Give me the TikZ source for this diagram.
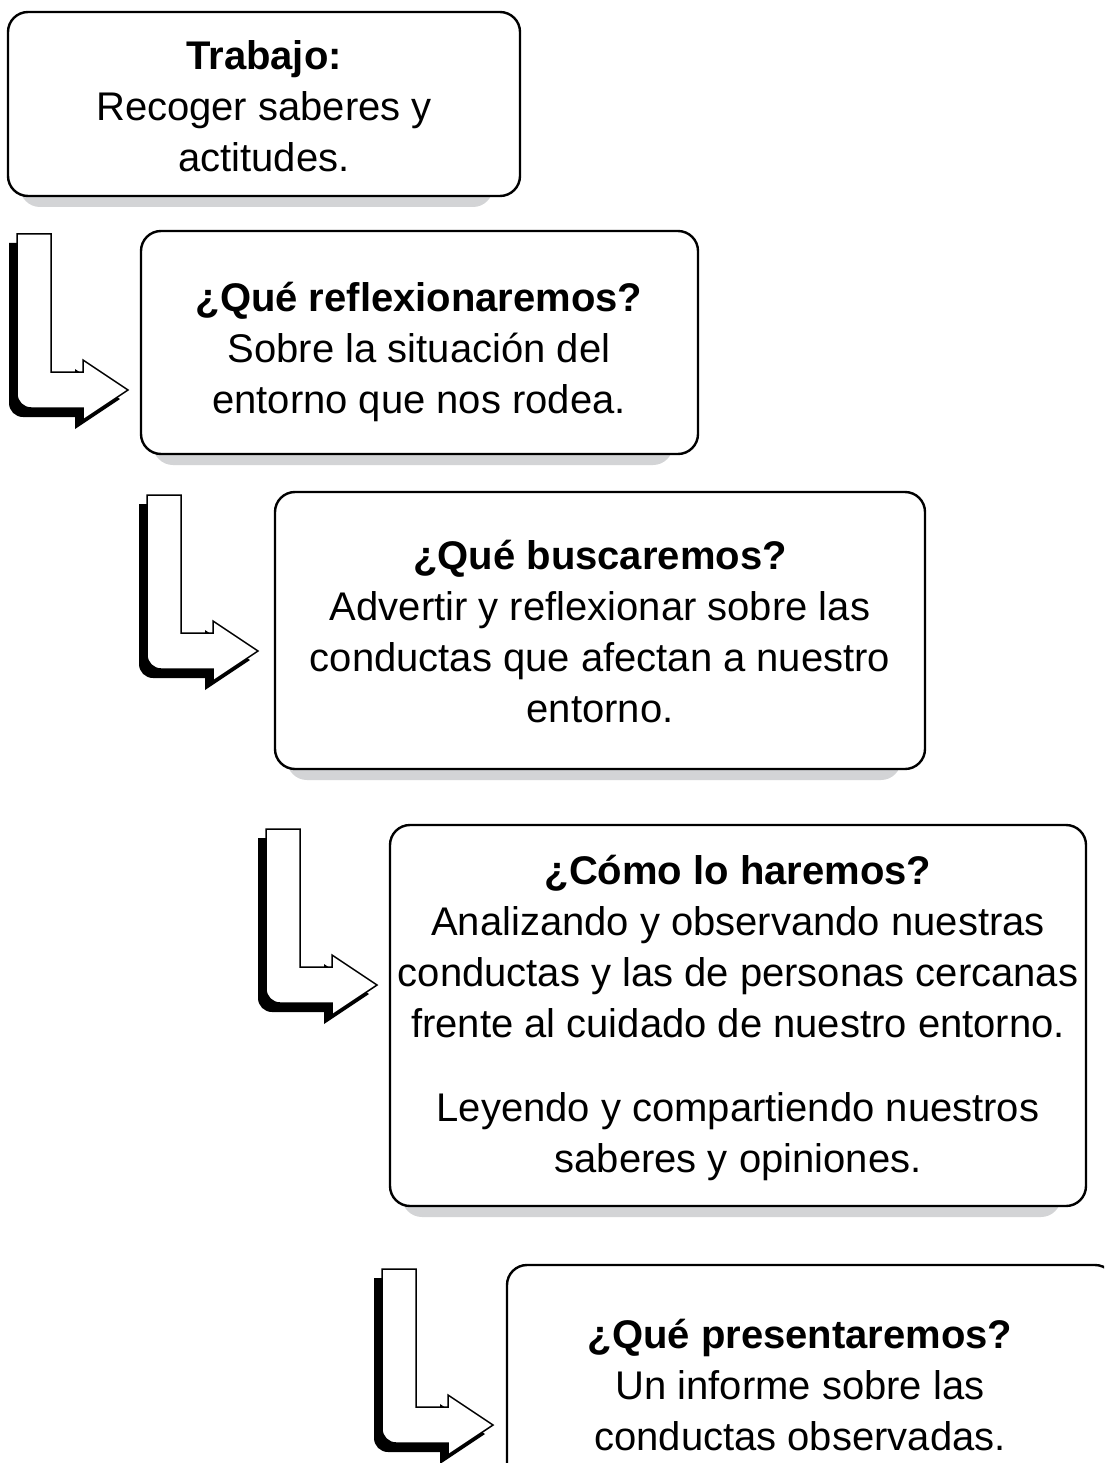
\documentclass[tikz,border=0pt]{standalone}
\usepackage{fontspec}
\setmainfont{Liberation Sans}
\definecolor{shadowgray}{HTML}{D3D4D6}
\tikzset{
  box/.style={draw=black, line width=2.4pt, rounded corners=20pt, fill=white, inner sep=0pt},
  boxshade/.style={fill=shadowgray, rounded corners=20pt},
  txt/.style={align=center, inner sep=0pt, font=\fontsize{40}{51}\selectfont},
  bentarrow/.pic={
    \fill[black] (-8,9) -- (26,9) -- (26,147) -- (58,147) -- (58,135) -- (103,165)
      -- (58,195) -- (58,183) [rounded corners=14pt] -- (-8,183) [sharp corners] -- cycle;
    \draw[fill=white, line width=1.5pt, line join=miter] (0,0) -- (34,0) -- (34,138) -- (66,138)
      -- (66,126) -- (111,156) -- (66,186) -- (66,174) [rounded corners=14pt] -- (0,174)
      [sharp corners] -- cycle;
  }
}
\begin{document}
\begin{tikzpicture}[x=1pt, y=-1pt]
\clip (0,0) rectangle (1104,1463);
\fill[white] (0,0) rectangle (1104,1463);
% shadows
\fill[boxshade] (20,24) rectangle (493,207);
\fill[boxshade] (153,243) rectangle (673,465);
\fill[boxshade] (287,504) rectangle (901,780);
\fill[boxshade] (402,837) rectangle (1061,1217);
% boxes
\node[box, minimum width=512pt, minimum height=184pt] (b1) at (264,104) {};
\node[box, minimum width=557pt, minimum height=223pt] (b2) at (419.5,342.5) {};
\node[box, minimum width=650pt, minimum height=277pt] (b3) at (600,630.5) {};
\node[box, minimum width=696pt, minimum height=381pt] (b4) at (738,1015.5) {};
\node[box, minimum width=608pt, minimum height=225pt] (b5) at (811,1377.5) {};
% texts
\node[txt] (t1) at (264,106)
  {\textbf{Trabajo:}\\ Recoger saberes y\\ actitudes.};
\node[txt] (t2) at (419,352)
  {\textbf{¿Qué reflexionaremos?}\\ Sobre la situación del\\ entorno que nos rodea.};
\node[txt] (t3) at (600,631.5)
  {\textbf{¿Qué buscaremos?}\\ Advertir y reflexionar sobre las\\ conductas que afectan a nuestro\\ entorno.};
\node[txt] (t4) at (738,1018)
  {\textbf{¿Cómo lo haremos?}\\ Analizando y observando nuestras\\ conductas y las de personas cercanas\\ frente al cuidado de nuestro entorno.\\[33pt] Leyendo y compartiendo nuestros\\ saberes y opiniones.};
\node[txt] (t5) at (800,1385)
  {\textbf{¿Qué presentaremos?}\\ Un informe sobre las\\ conductas observadas.};
% arrows
\coordinate (a1) at (17,234);
\coordinate (a2) at (147,495);
\coordinate (a3) at (266,829);
\coordinate (a4) at (382,1269);
\pic at (a1) {bentarrow};
\pic at (a2) {bentarrow};
\pic at (a3) {bentarrow};
\pic at (a4) {bentarrow};
\end{tikzpicture}
\end{document}
